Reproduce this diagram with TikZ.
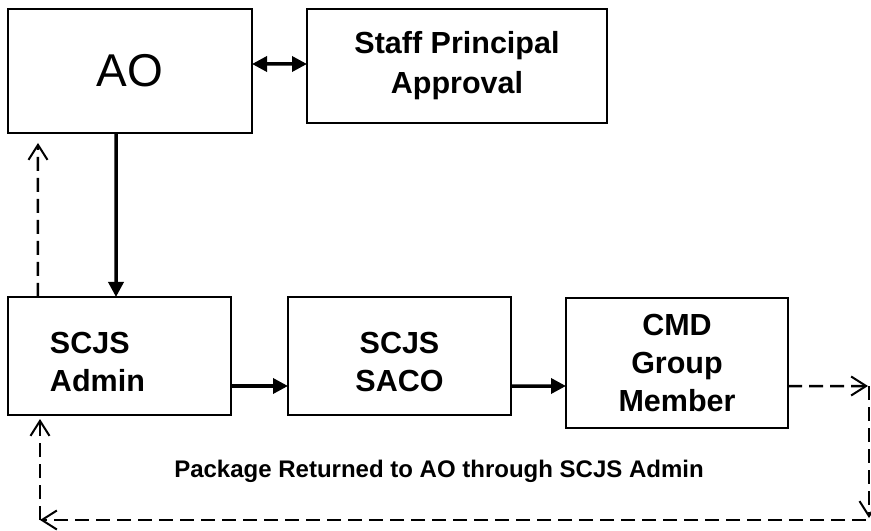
\documentclass[tikz,border=0pt]{standalone}
\usepackage{fontspec}
\setmainfont{Liberation Sans}
\usetikzlibrary{arrows.meta}
\newcommand\mylift{\rule{0pt}{34bp}}
\begin{document}
\begin{tikzpicture}[x=1bp,y=-1bp,
  box/.style={draw=black, line width=2bp, rectangle, inner sep=0pt, outer sep=0pt, align=center},
  boxlabel/.style={font=\fontsize{30.5bp}{38bp}\selectfont\bfseries},
  solidarrow/.style={line width=3.5bp, -{Triangle[length=15bp,width=15bp]}},
  dasharrow/.style={line width=2.5bp, dash pattern=on 14bp off 7bp, -{Straight Barb[length=15bp,width=19bp,line width=2bp]}}]
\useasboundingbox (0,0) rectangle (871,531);
\node[box, minimum width=244bp, minimum height=124bp, font=\fontsize{46bp}{50bp}\selectfont] (ao) at (130,71) {AO};
\node[box, boxlabel, font=\fontsize{30.5bp}{40bp}\selectfont\bfseries, minimum width=300bp, minimum height=114bp] (staff) at (457,66) {Staff Principal\\Approval};
\node[box, boxlabel, minimum width=223bp, minimum height=118bp, text width=139bp, align=left] (admin) at (119.5,356) {\mylift SCJS\\Admin};
\node[box, boxlabel, minimum width=223bp, minimum height=118bp] (saco) at (399.5,356) {\mylift SCJS\\SACO};
\node[box, boxlabel, minimum width=222bp, minimum height=130bp] (cmd) at (677,363) {CMD\\Group\\Member};
\node[font=\fontsize{24bp}{28bp}\selectfont\bfseries, inner sep=0pt] (note) at (439,471) {Package Returned to AO through SCJS Admin};
% solid connectors
\draw[solidarrow, {Triangle[length=15bp,width=15bp]}-{Triangle[length=15bp,width=15bp]}] ([yshift=7bp]ao.east) -- ([yshift=2bp]staff.west);
\draw[solidarrow] ([xshift=-14bp]ao.south) -- ([xshift=-3.5bp]admin.north);
\draw[solidarrow] ([yshift=-30bp]admin.east) -- ([yshift=-30bp]saco.west);
\draw[solidarrow] ([yshift=-30bp]saco.east) -- ([yshift=-23bp]cmd.west);
% dashed return path
\coordinate (r1) at (868,386);
\coordinate (r2) at (869,386);
\coordinate (r3) at (869,518);
\coordinate (b1) at (866,520);
\coordinate (b2) at (40,520);
\coordinate (aup) at (40,419);
\draw[dasharrow] ([yshift=-23bp]cmd.east) -- (r1);
\draw[dasharrow] (r2) -- (r3);
\draw[dasharrow] (b1) -- (b2);
\draw[dasharrow] (b2) -- (aup);
\draw[dasharrow] ([xshift=-81.5bp]admin.north) -- ([xshift=-92bp,yshift=-10bp]ao.south);
\end{tikzpicture}
\end{document}
